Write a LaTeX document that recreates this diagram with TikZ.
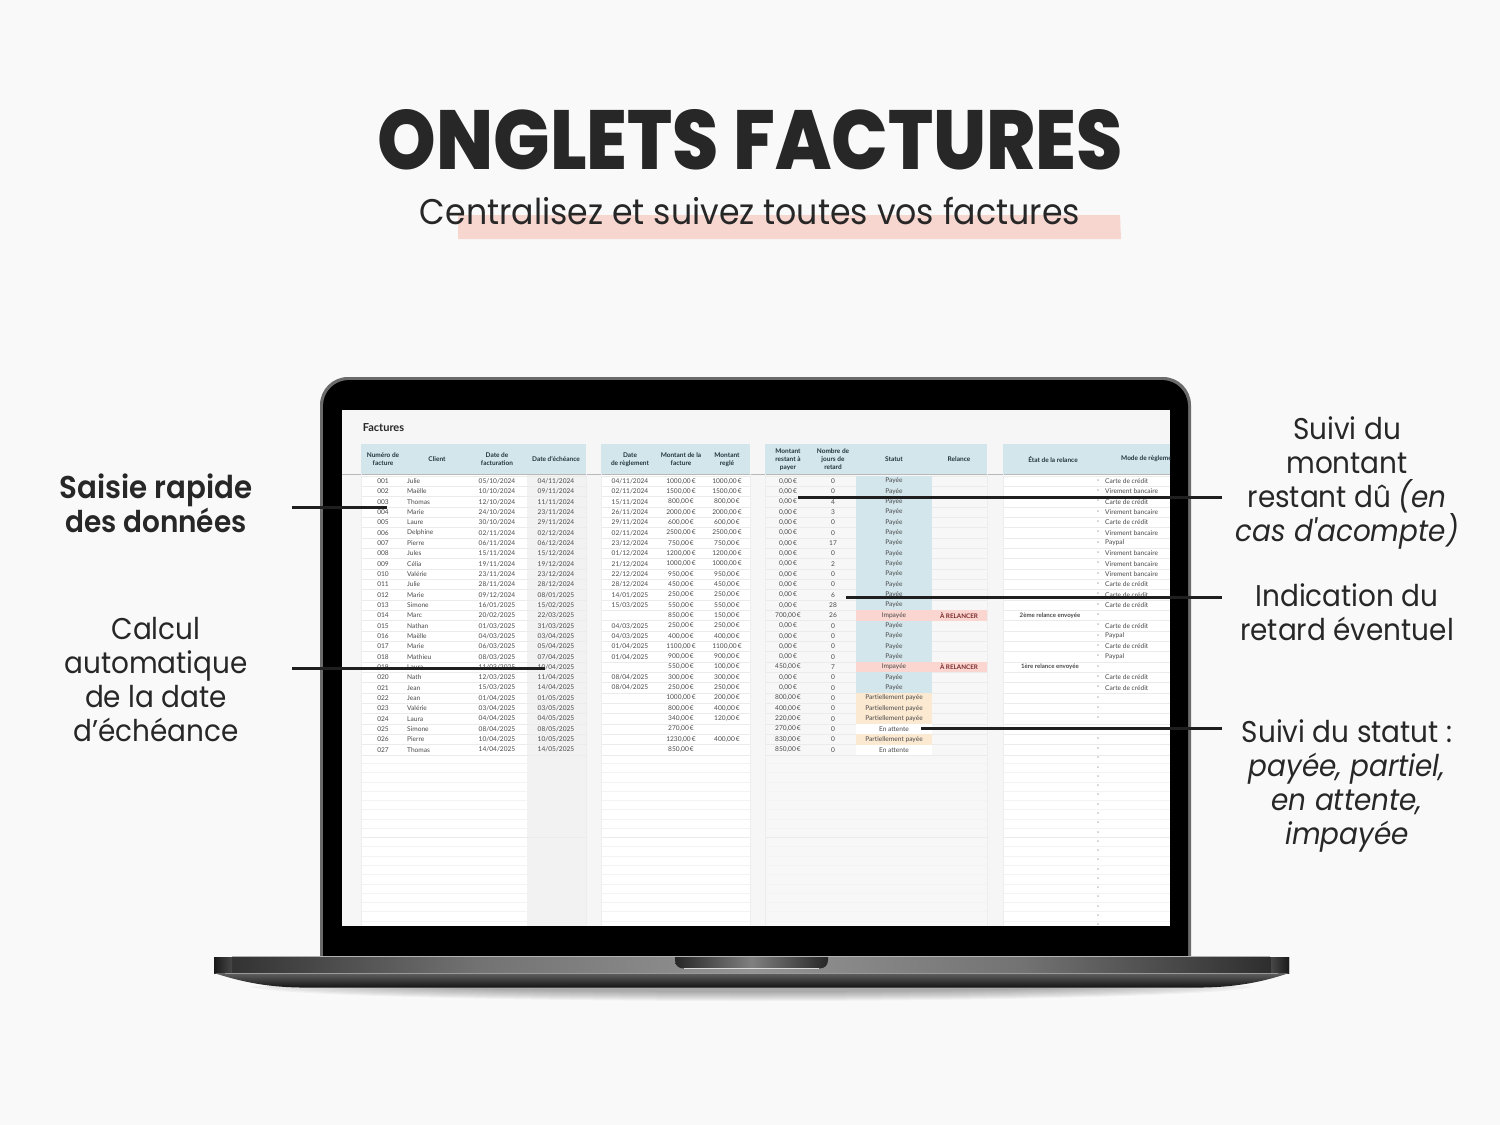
\documentclass[tikz,border=0pt]{standalone}
\usepackage{fontspec}
\usepackage{graphicx}
\setmainfont{Lato}
\newfontfamily\ttlf{Poppins}[UprightFont=* ExtraBold]
\newfontfamily\labf{Poppins}[UprightFont=*,ItalicFont=* Italic,BoldFont=* SemiBold,FakeStretch=0.93]
\definecolor{bgc}{HTML}{F9F9F9}
\definecolor{ink}{HTML}{272727}
\definecolor{hl}{HTML}{F7D6D0}
\definecolor{hdr}{HTML}{D3E6EC}
\definecolor{hdrt}{HTML}{24343D}
\definecolor{cellt}{HTML}{4A4A4A}
\definecolor{rowl}{HTML}{F3F3F3}
\definecolor{rowm}{HTML}{EBEBEB}
\definecolor{pan}{HTML}{F6F6F6}
\definecolor{stb}{HTML}{D3E6EC}
\definecolor{sto}{HTML}{FCE9D2}
\definecolor{str}{HTML}{FBD5CF}
\definecolor{rel}{HTML}{7A2A2A}
\tikzset{
  cell/.style={inner sep=0pt,text=cellt,font=\fontsize{6.6}{7.5}\selectfont},
  hcell/.style={inner sep=0pt,text=hdrt,align=center,font=\bfseries\fontsize{6.5}{8}\selectfont},
  lab/.style={inner sep=0pt,align=center,text=ink,font=\labf\fontsize{30}{34}\selectfont},
  lead/.style={line width=3pt,draw=black!88},
  hband/.style={fill=hdr,draw=none},
}
\newcount\rn
\newcommand\Ra[9]{%
  \global\advance\rn by 1
  \pgfmathsetmacro\yy{481.1+10.33*(\the\rn-1)}%
  \node[cell] (n\the\rn) at (383,\yy) {#1};
  \node[cell,anchor=west] (k\the\rn) at (407,\yy) {#2};
  \node[cell] (f\the\rn) at (497,\yy) {#3};
  \node[cell] (e\the\rn) at (556,\yy) {#4};
  \node[cell] (g\the\rn) at (630,\yy) {#5};
  \node[cell] (m\the\rn) at (681,\yy) {#6};
  \node[cell] (p\the\rn) at (727,\yy) {#7};
  \node[cell] (s\the\rn) at (788,\yy) {#8};
  \node[cell] (j\the\rn) at (833,\yy) {#9};
}
\newcommand\Rb[5]{% fill, status, relance, etat, mode
  \fill[#1] (856,\yy-5.17) rectangle (932,\yy+5.17);
  \node[cell] (t\the\rn) at (894,\yy) {#2};
  \node[cell,text=rel,font=\bfseries\fontsize{6.3}{7.5}\selectfont] (r\the\rn) at (959,\yy) {#3};
  \node[cell,font=\bfseries\fontsize{6.1}{7.5}\selectfont] (h\the\rn) at (1050,\yy) {#4};
  \node[cell] (d\the\rn) at (1098,\yy) {-};
  \node[cell,anchor=west] (o\the\rn) at (1105,\yy) {#5};
}
\begin{document}
\begin{tikzpicture}[x=1pt,y=-1pt]
\useasboundingbox (0,0) rectangle (1500,1125);
\fill[bgc] (0,0) rectangle (1500,1125);
% highlighter and headline
\fill[hl] (458,215) -- (1120,215) -- (1121,239) -- (458,239) -- cycle;
\node[inner sep=0pt,text=ink] (title) at (750.5,139.5) {\resizebox{745pt}{60pt}{\ttlf ONGLETS FACTURES}};
\node[inner sep=0pt,text=ink] (sub) at (750,211) {\resizebox{660pt}{!}{\labf\fontsize{34}{38}\selectfont Centralisez et suivez toutes vos factures}};
% soft shadow under laptop
\begin{scope}
  \clip (200,986) rectangle (1300,1010);
  \foreach \w/\h in {500/15,485/14,470/13,450/12,430/11,410/10,390/9,370/8,350/7,330/6}
    \fill[black,opacity=.035] (751,986) ellipse ({\w pt} and {\h pt});
\end{scope}
% lid
\fill[black!58,rounded corners=28pt] (320,985) -- (320,377) -- (1191,377) -- (1191,985) -- cycle;
\fill[black,rounded corners=26pt] (323,985) -- (323,380) -- (1188,380) -- (1188,985) -- cycle;
% screen
\begin{scope}
  \clip (342,410) rectangle (1170,926);
  \fill[pan] (342,410) rectangle (1170,926);
  % panels
  \fill[white] (361,474) rectangle (586,926);
  \fill[white] (601,474) rectangle (750,926);
  \fill[white!97!black] (765,474) rectangle (987,926);
  \fill[white] (1003,474) rectangle (1170,926);
  \fill[black!5] (527,474) rectangle (586,926);
  \fill[black!3] (932,474) rectangle (987,926);
  % header bands
  \fill[hband] (361,444) rectangle (586,474);
  \fill[hband] (601,444) rectangle (750,474);
  \fill[hband] (765,444) rectangle (987,474);
  \fill[hband] (1003,444) rectangle (1170,474);
  \draw[black!28,line width=.8pt] (342,474) -- (1170,474);
  % row rules
  \foreach \i in {0,...,27} {
    \pgfmathsetmacro\ly{475.9+10.33*\i}
    \draw[rowm,line width=.6pt] (361,\ly) -- (586,\ly) (601,\ly) -- (750,\ly) (765,\ly) -- (987,\ly) (1003,\ly) -- (1170,\ly);
  }
  \foreach \i in {1,...,19} {
    \pgfmathsetmacro\ly{754+9.27*\i}
    \draw[rowl,line width=.5pt] (361,\ly) -- (586,\ly) (601,\ly) -- (750,\ly) (765,\ly) -- (987,\ly) (1003,\ly) -- (1170,\ly);
    \pgfmathsetmacro\dy{749.5+9.27*\i}
    \node[cell] (dash\i) at (1098,\dy) {-};
  }
  \draw[rowm,line width=.7pt] (361,837) -- (586,837) (601,837) -- (750,837) (765,837) -- (987,837) (1003,837) -- (1170,837);
  \draw[black!7,line width=.6pt] (361,474) -- (361,926) (586,474) -- (586,926) (601,474) -- (601,926) (750,474) -- (750,926) (765,474) -- (765,926) (987,474) -- (987,926) (1003,474) -- (1003,926);
  % headers and title
  \node[inner sep=0pt,text=ink,font=\bfseries\fontsize{11}{12}\selectfont] (ftitle) at (383.5,428) {Factures};
  \node[hcell] (h1) at (383,459.5) {Numéro de\\facture};
  \node[hcell] (h2) at (437,459) {Client};
  \node[hcell] (h3) at (497,459.5) {Date de\\facturation};
  \node[hcell] (h4) at (556,459) {Date d'échéance};
  \node[hcell] (h5) at (630,459.5) {Date\\de règlement};
  \node[hcell] (h6) at (681,459.5) {Montant de la\\facture};
  \node[hcell] (h7) at (727,459.5) {Montant\\reglé};
  \node[hcell] (h8) at (788,459.5) {Montant\\restant à\\payer};
  \node[hcell] (h9) at (833,459.5) {Nombre de\\jours de\\retard};
  \node[hcell] (h10) at (894,459) {Statut};
  \node[hcell] (h11) at (959,459) {Relance};
  \node[hcell] (h12) at (1053,459) {État de la relance};
  \node[hcell,anchor=west] (h13) at (1121,459) {Mode de règlement};
  % rows
  \Ra{001}{Julie}{05/10/2024}{04/11/2024}{04/11/2024}{1000,00\,€}{1000,00\,€}{0,00\,€}{0}\Rb{stb}{Payée}{}{}{Carte de crédit}
  \Ra{002}{Maëlle}{10/10/2024}{09/11/2024}{02/11/2024}{1500,00\,€}{1500,00\,€}{0,00\,€}{0}\Rb{stb}{Payée}{}{}{Virement bancaire}
  \Ra{003}{Thomas}{12/10/2024}{11/11/2024}{15/11/2024}{800,00\,€}{800,00\,€}{0,00\,€}{4}\Rb{stb}{Payée}{}{}{Carte de crédit}
  \Ra{004}{Marie}{24/10/2024}{23/11/2024}{26/11/2024}{2000,00\,€}{2000,00\,€}{0,00\,€}{3}\Rb{stb}{Payée}{}{}{Virement bancaire}
  \Ra{005}{Laure}{30/10/2024}{29/11/2024}{29/11/2024}{600,00\,€}{600,00\,€}{0,00\,€}{0}\Rb{stb}{Payée}{}{}{Carte de crédit}
  \Ra{006}{Delphine}{02/11/2024}{02/12/2024}{02/11/2024}{2500,00\,€}{2500,00\,€}{0,00\,€}{0}\Rb{stb}{Payée}{}{}{Virement bancaire}
  \Ra{007}{Pierre}{06/11/2024}{06/12/2024}{23/12/2024}{750,00\,€}{750,00\,€}{0,00\,€}{17}\Rb{stb}{Payée}{}{}{Paypal}
  \Ra{008}{Jules}{15/11/2024}{15/12/2024}{01/12/2024}{1200,00\,€}{1200,00\,€}{0,00\,€}{0}\Rb{stb}{Payée}{}{}{Virement bancaire}
  \Ra{009}{Célia}{19/11/2024}{19/12/2024}{21/12/2024}{1000,00\,€}{1000,00\,€}{0,00\,€}{2}\Rb{stb}{Payée}{}{}{Virement bancaire}
  \Ra{010}{Valérie}{23/11/2024}{23/12/2024}{22/12/2024}{950,00\,€}{950,00\,€}{0,00\,€}{0}\Rb{stb}{Payée}{}{}{Virement bancaire}
  \Ra{011}{Julie}{28/11/2024}{28/12/2024}{28/12/2024}{450,00\,€}{450,00\,€}{0,00\,€}{0}\Rb{stb}{Payée}{}{}{Carte de crédit}
  \Ra{012}{Marie}{09/12/2024}{08/01/2025}{14/01/2025}{250,00\,€}{250,00\,€}{0,00\,€}{6}\Rb{stb}{Payée}{}{}{Carte de crédit}
  \Ra{013}{Simone}{16/01/2025}{15/02/2025}{15/03/2025}{550,00\,€}{550,00\,€}{0,00\,€}{28}\Rb{stb}{Payée}{}{}{Carte de crédit}
  \Ra{014}{Marc}{20/02/2025}{22/03/2025}{}{850,00\,€}{150,00\,€}{700,00\,€}{26}\fill[str] (932,\yy-5.17) rectangle (987,\yy+5.17);\Rb{str}{Impayée}{À RELANCER}{2ème relance envoyée}{}
  \Ra{015}{Nathan}{01/03/2025}{31/03/2025}{04/03/2025}{250,00\,€}{250,00\,€}{0,00\,€}{0}\Rb{stb}{Payée}{}{}{Carte de crédit}
  \Ra{016}{Maëlle}{04/03/2025}{03/04/2025}{04/03/2025}{400,00\,€}{400,00\,€}{0,00\,€}{0}\Rb{stb}{Payée}{}{}{Paypal}
  \Ra{017}{Marie}{06/03/2025}{05/04/2025}{01/04/2025}{1100,00\,€}{1100,00\,€}{0,00\,€}{0}\Rb{stb}{Payée}{}{}{Carte de crédit}
  \Ra{018}{Mathieu}{08/03/2025}{07/04/2025}{01/04/2025}{900,00\,€}{900,00\,€}{0,00\,€}{0}\Rb{stb}{Payée}{}{}{Paypal}
  \Ra{019}{Laura}{11/03/2025}{10/04/2025}{}{550,00\,€}{100,00\,€}{450,00\,€}{7}\fill[str] (932,\yy-5.17) rectangle (987,\yy+5.17);\Rb{str}{Impayée}{À RELANCER}{1ère relance envoyée}{}
  \Ra{020}{Nath}{12/03/2025}{11/04/2025}{08/04/2025}{300,00\,€}{300,00\,€}{0,00\,€}{0}\Rb{stb}{Payée}{}{}{Carte de crédit}
  \Ra{021}{Jean}{15/03/2025}{14/04/2025}{08/04/2025}{250,00\,€}{250,00\,€}{0,00\,€}{0}\Rb{stb}{Payée}{}{}{Carte de crédit}
  \Ra{022}{Jean}{01/04/2025}{01/05/2025}{}{1000,00\,€}{200,00\,€}{800,00\,€}{0}\Rb{sto}{Partiellement payée}{}{}{}
  \Ra{023}{Valérie}{03/04/2025}{03/05/2025}{}{800,00\,€}{400,00\,€}{400,00\,€}{0}\Rb{sto}{Partiellement payée}{}{}{}
  \Ra{024}{Laura}{04/04/2025}{04/05/2025}{}{340,00\,€}{120,00\,€}{220,00\,€}{0}\Rb{sto}{Partiellement payée}{}{}{}
  \Ra{025}{Simone}{08/04/2025}{08/05/2025}{}{270,00\,€}{}{270,00\,€}{0}\Rb{white}{En attente}{}{}{}
  \Ra{026}{Pierre}{10/04/2025}{10/05/2025}{}{1230,00\,€}{400,00\,€}{830,00\,€}{0}\Rb{sto}{Partiellement payée}{}{}{}
  \Ra{027}{Thomas}{14/04/2025}{14/05/2025}{}{850,00\,€}{}{850,00\,€}{0}\Rb{white}{En attente}{}{}{}
\end{scope}
% base
\path[left color=black!82,right color=black!55] (214,957) rectangle (480,973);
\path[left color=black!55,right color=black!42] (480,957) rectangle (751,973);
\path[left color=black!42,right color=black!55] (751,957) rectangle (1022,973);
\path[left color=black!55,right color=black!84] (1022,957) rectangle (1289,973);
\path[left color=black!90,right color=black!72] (214,957) rectangle (232,973);
\path[left color=black!72,right color=black!90] (1271,957) rectangle (1289,973);
\draw[black!30,line width=.8pt] (232,956.6) -- (1270,956.6);
\path[top color=black!62,bottom color=black!92] (214,973) .. controls (245,983) and (270,987) .. (300,987.5) -- (1203,987.5) .. controls (1233,987) and (1260,983) .. (1289,973) -- cycle;
\draw[black!40,line width=.5pt] (225,973) -- (1278,973);
% notch
\path[left color=black!85,right color=black!85,middle color=black!50] (675,957) -- (675,960) .. controls (675,966) and (679,968.5) .. (684,968.5) -- (819,968.5) .. controls (824,968.5) and (828,966) .. (828,960) -- (828,957) -- cycle;
\draw[black!15,line width=.5pt] (684,968.6) -- (819,968.6);
% labels
\node[lab] (l1) at (156,503.5) {\fontsize{31.5}{34}\selectfont\textbf{Saisie rapide}\\\textbf{des données}};
\node[lab] (l2) at (156,680) {Calcul\\automatique\\de la date\\d’échéance};
\node[lab] (l3) at (1347,482.5) {Suivi du\\montant\\restant dû \textit{(en}\\\textit{cas d'acompte)}};
\node[lab] (l4) at (1347,612) {Indication du\\retard éventuel};
\node[lab] (l5) at (1347,786) {Suivi du statut :\\\textit{payée, partiel,}\\\textit{en attente,}\\\textit{impayée}};
% connectors
\coordinate (a1) at (292,507); \coordinate (b1) at (387,507);
\coordinate (a2) at (292,668); \coordinate (b2) at (545,668);
\coordinate (a3) at (1222,497); \coordinate (b3) at (798,497);
\coordinate (a4) at (1222,597); \coordinate (b4) at (846,597);
\coordinate (a5) at (1222,728); \coordinate (b5) at (921,728);
\draw[lead] (a1) -- (b1);
\draw[lead] (a2) -- (b2);
\draw[lead] (a3) -- (b3);
\draw[lead] (a4) -- (b4);
\draw[lead] (a5) -- (b5);
\end{tikzpicture}
\end{document}
